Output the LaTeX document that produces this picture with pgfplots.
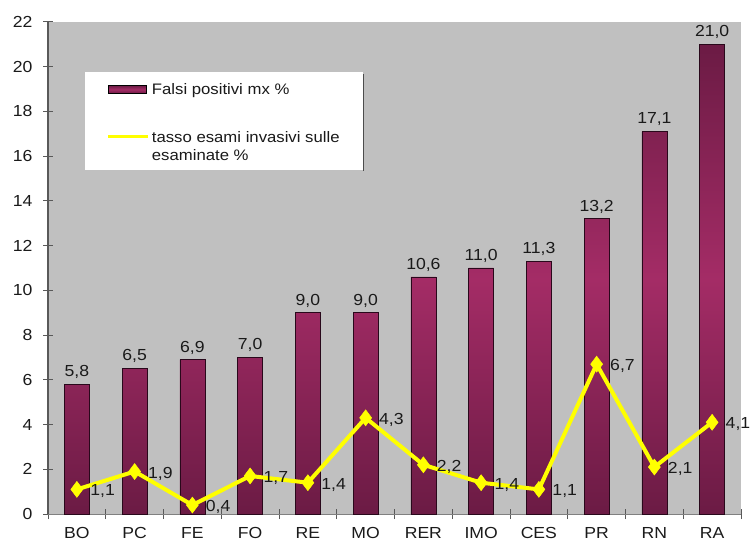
\documentclass[border=0pt]{standalone}
\usepackage{fontspec}
\setmainfont[FakeStretch=1.1]{Liberation Sans}
\usepackage{pgfplots}
\pgfplotsset{compat=1.18}
\definecolor{bgray}{HTML}{C0C0C0}
\definecolor{bdark}{HTML}{3A0C27}
\definecolor{bpink}{HTML}{A42C66}
\definecolor{lyel}{HTML}{FFFF00}
\definecolor{txt}{HTML}{1A1A1A}
\pgfdeclareverticalshading{barshade}{100bp}{color(0bp)=(bdark); color(15bp)=(bdark!75!bpink); color(50bp)=(bpink); color(85bp)=(bdark!75!bpink); color(100bp)=(bdark)}
\begin{document}
\begin{tikzpicture}[x=1pt,y=1pt]
\useasboundingbox (0,0) rectangle (752,544);
\begin{axis}[
  at={(48pt,30pt)}, anchor=south west,
  scale only axis, width=693pt, height=492pt,
  xmin=-0.5, xmax=11.5, ymin=0, ymax=22,
  clip=false,
  axis background/.style={fill=bgray},
  axis x line*=bottom, axis y line*=left,
  x axis line style={draw=black!50, line width=1pt, -},
  y axis line style={draw=black!65, line width=1.5pt, -},
  tick align=center, major tick length=10pt,
  tick style={black!65, line width=1pt},
  ytick={0,2,...,22},
  xtick={-0.5,0.5,...,11.5}, xticklabels={},
  extra x ticks={0,1,...,11},
  extra x tick labels={BO,PC,FE,FO,RE,MO,RER,IMO,CES,PR,RN,RA},
  extra x tick style={major tick length=0pt, xticklabel style={yshift=-10pt}},
  ticklabel style={font=\fontsize{16}{19}\selectfont, text=txt},
  yticklabel style={xshift=-7pt},
  /pgf/number format/assume math mode=true,
  legend style={name=leg, at={(0.053,0.8984)}, anchor=north west, fill=none, draw=none,
    inner xsep=22pt, inner ysep=9pt, row sep=30pt,
    font=\fontsize{15.2}{18}\selectfont, text=txt},
  legend cell align=left,
]
\fill[white] (rel axis cs:0.0534,0.8984) rectangle (rel axis cs:0.4545,0.6992);
\draw[black!70, line width=1.5pt] (rel axis cs:0.4555,0.8945) -- (rel axis cs:0.4555,0.6972);
\addplot[ybar, bar width=25pt, draw=bdark!70!black, line width=0.6pt,
  shading=barshade,
  nodes near coords={\pgfmathprintnumber[fixed,fixed zerofill,precision=1,use comma,assume math mode=true]{\pgfplotspointmeta}},
  every node near coord/.append style={font=\fontsize{16}{19}\selectfont, text=txt, yshift=2pt},
  legend image code/.code={\draw[draw=black, line width=0.6pt, shading=barshade] (0pt,-4pt) rectangle (38pt,4pt);}
] coordinates {
(0,5.8) (1,6.5) (2,6.9) (3,7.0) (4,9.0) (5,9.0) (6,10.6) (7,11.0) (8,11.3) (9,13.2) (10,17.1) (11,21.0)
};
\addlegendentry{Falsi positivi mx \%}
\addplot[color=lyel, line width=4pt, mark=diamond*, mark size=8pt,
  mark options={fill=lyel, draw=lyel, line width=0.5pt},
  nodes near coords={\pgfmathprintnumber[fixed,fixed zerofill,precision=1,use comma,assume math mode=true]{\pgfplotspointmeta}},
  every node near coord/.append style={font=\fontsize{16}{19}\selectfont, text=txt, anchor=west, xshift=10pt, yshift=-2pt},
  legend image code/.code={\draw[lyel, line width=3pt] (0pt,0pt) -- (40pt,0pt);}
] coordinates {
(0,1.1) (1,1.9) (2,0.4) (3,1.7) (4,1.4) (5,4.3) (6,2.2) (7,1.4) (8,1.1) (9,6.7) (10,2.1) (11,4.1)
};
\addlegendentry{\begin{tabular}[t]{@{}l@{}}tasso esami invasivi sulle\\esaminate \%\end{tabular}}
\end{axis}
\end{tikzpicture}
\end{document}
